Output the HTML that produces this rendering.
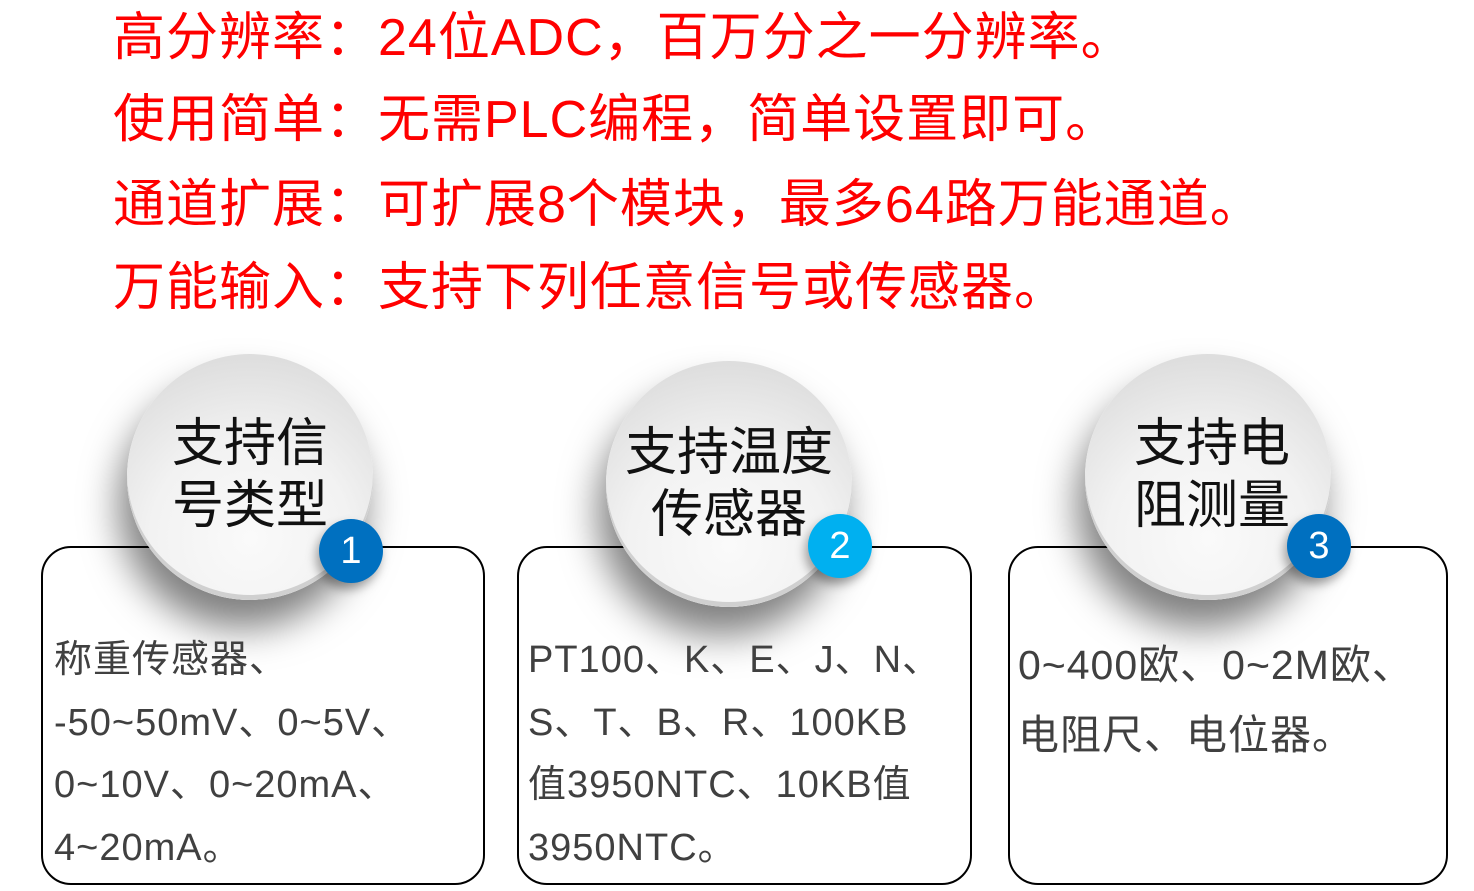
<!DOCTYPE html>
<html><head><meta charset="utf-8"><style>
html,body{margin:0;padding:0;background:#fff;}
body{width:1474px;height:891px;position:relative;overflow:hidden;font-family:"Liberation Sans","Noto Sans CJK SC",sans-serif;}
.h{position:absolute;left:113px;color:#ff0000;font-size:52px;letter-spacing:1px;white-space:nowrap;line-height:60px;}
.box{position:absolute;top:546px;height:335px;border:2px solid #000;border-radius:30px;background:#fff;}
.c{position:absolute;width:246px;height:246px;border-radius:50%;background:radial-gradient(circle at 50% 75%,#fafafa 0%,#f2f2f2 45%,#d4d4d4 100%);box-shadow:-8px 28px 38px rgba(0,0,0,0.5), inset 0 -5px 0 #d0d0d0;}
.ct{position:absolute;width:246px;text-align:center;font-size:52px;line-height:62px;color:#111;white-space:nowrap;}
.b{position:absolute;width:64px;height:64px;border-radius:50%;color:#fff;font-size:38px;line-height:64px;text-align:center;box-shadow:-3px 6px 10px rgba(0,0,0,0.35);}
.t{position:absolute;font-size:38px;line-height:62.5px;color:#404040;white-space:nowrap;letter-spacing:1px;}
</style></head><body>
<div class="h" style="top:8px">高分辨率：24位ADC，百万分之一分辨率。</div>
<div class="h" style="top:90px">使用简单：无需PLC编程，简单设置即可。</div>
<div class="h" style="top:175px">通道扩展：可扩展8个模块，最多64路万能通道。</div>
<div class="h" style="top:258px">万能输入：支持下列任意信号或传感器。</div>

<div class="box" style="left:41px;width:440px"></div>
<div class="box" style="left:517px;width:451px"></div>
<div class="box" style="left:1008px;width:436px"></div>

<div class="c" style="left:127px;top:354px"></div>
<div class="c" style="left:606px;top:361px"></div>
<div class="c" style="left:1085px;top:354px"></div>

<div class="ct" style="left:127px;top:413px">支持信<br>号类型</div>
<div class="ct" style="left:606px;top:422px">支持温度<br>传感器</div>
<div class="ct" style="left:1089px;top:413px">支持电<br>阻测量</div>

<div class="b" style="left:319px;top:519px;background:#0070c0">1</div>
<div class="b" style="left:808px;top:514px;background:#00b0f0">2</div>
<div class="b" style="left:1287px;top:514px;background:#0070c0">3</div>

<div class="t" style="left:54px;top:629px">称重传感器、<br>-50~50mV、0~5V、<br>0~10V、0~20mA、<br>4~20mA。</div>
<div class="t" style="left:528px;top:629px">PT100、K、E、J、N、<br>S、T、B、R、100KB<br>值3950NTC、10KB值<br>3950NTC。</div>
<div class="t" style="left:1018px;top:630px;line-height:70px;font-size:41px">0~400欧、0~2M欧、<br>电阻尺、电位器。</div>
</body></html>
